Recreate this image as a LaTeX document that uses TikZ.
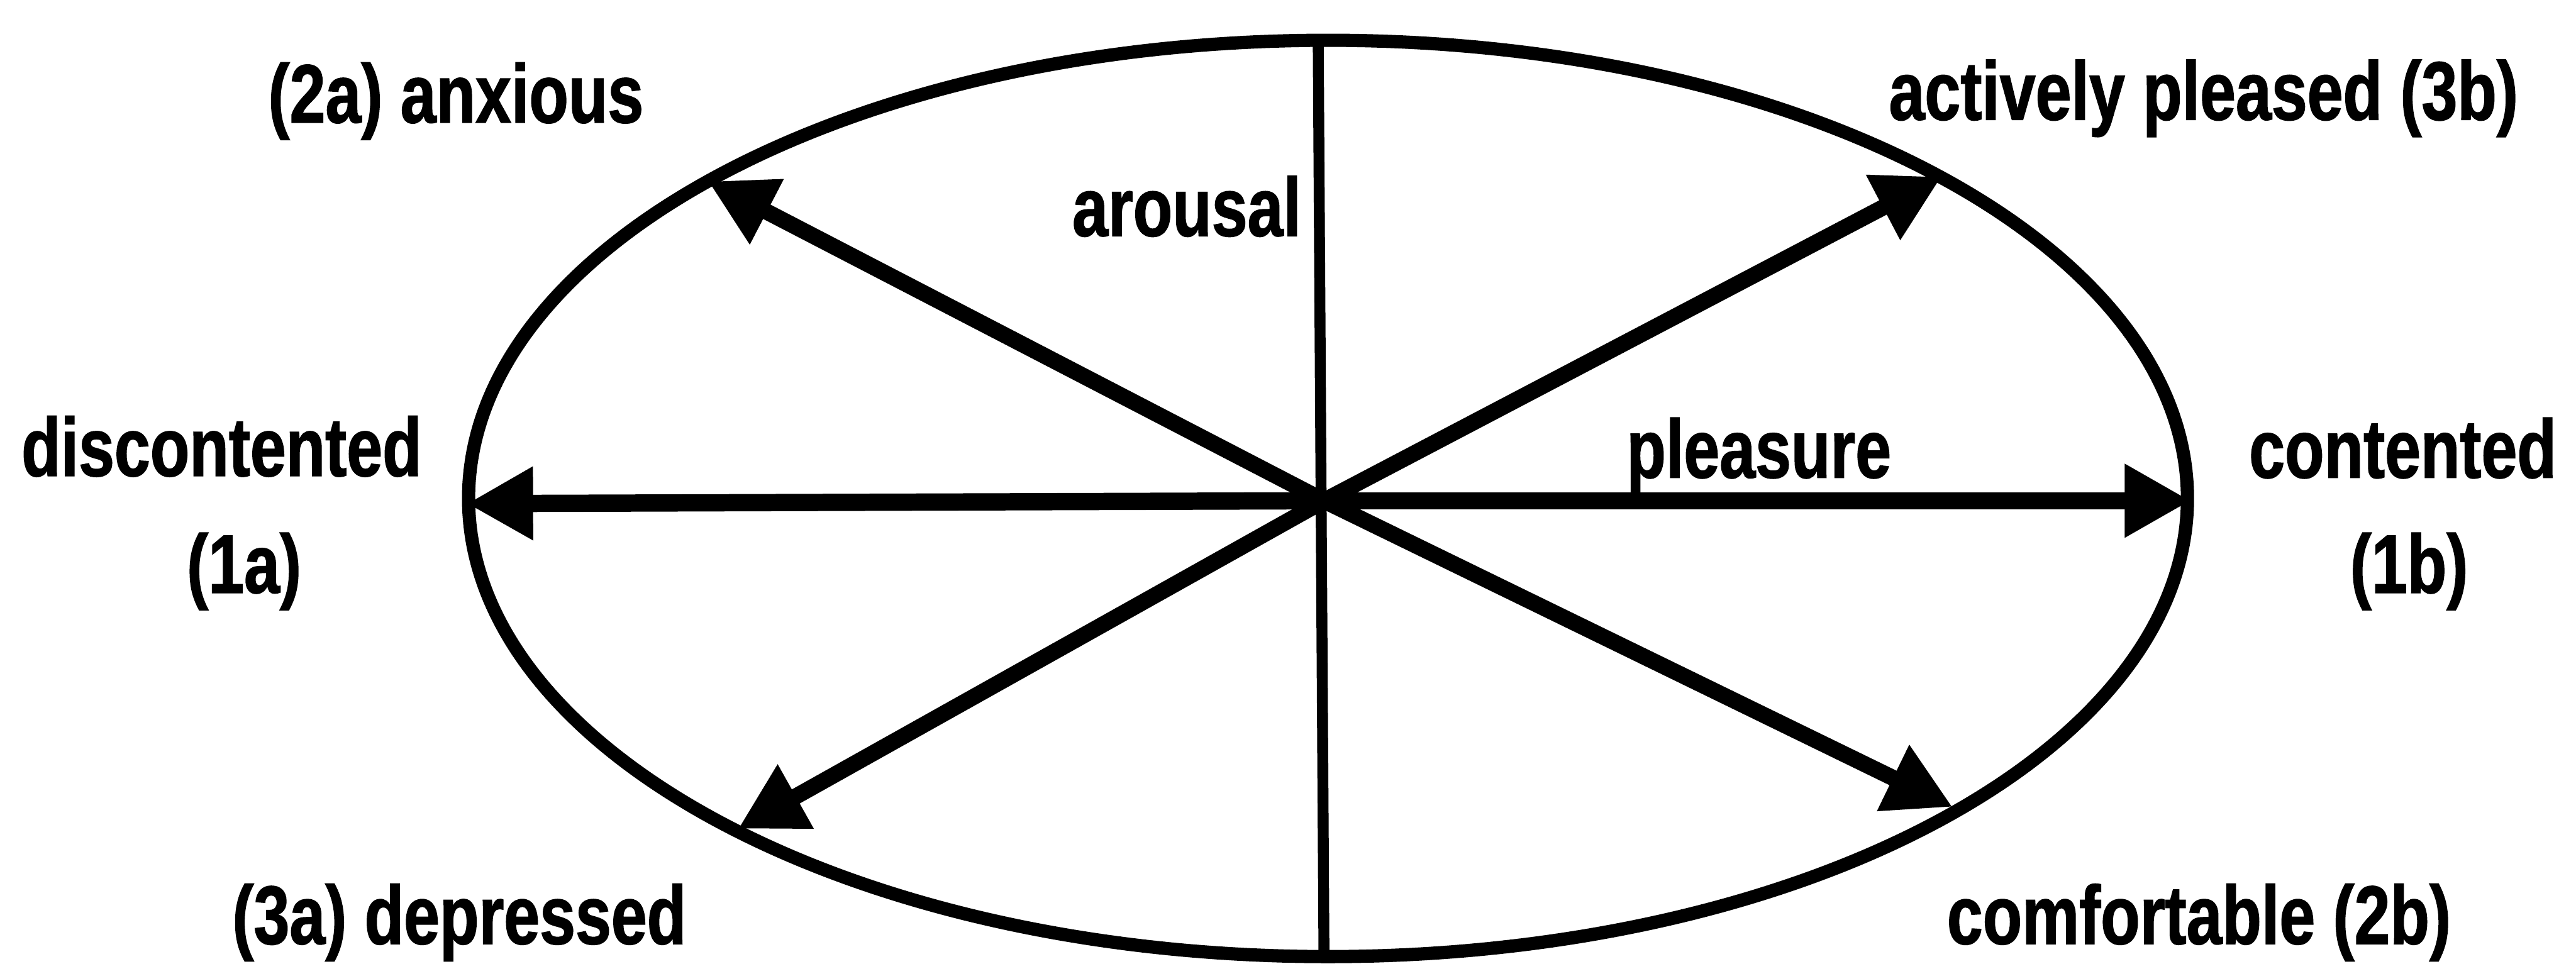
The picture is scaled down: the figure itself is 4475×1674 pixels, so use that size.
\documentclass[tikz,border=0pt]{standalone}
\usepackage{fontspec}
\setmainfont{Liberation Sans}[FakeStretch=0.775, BoldFeatures={FakeBold=1.2}]
\usetikzlibrary{arrows.meta}
\begin{document}
\begin{tikzpicture}[x=0.01cm, y=-0.01cm,
  lbl/.style={font=\fontsize{41}{49}\selectfont\bfseries, inner sep=0pt, anchor=base},
  rim/.style={line width=0.23cm},
  axisline/.style={line width=0.19cm},
  ray/.style={line width=0.28cm, -{Triangle[length=1.15cm, width=1.2cm]}},
  hray/.style={ray, line width=0.30cm}]
\useasboundingbox (0,0) rectangle (4475,1674);

% ellipse
\draw[rim] (2307,866) ellipse [x radius=1493, y radius=796];

% coordinates
\coordinate (c) at (2300,870);
\coordinate (vtop) at (2290,70);
\coordinate (vbot) at (2300,1662);
\coordinate (tl) at (811,875);
\coordinate (tr) at (3806,870);
\coordinate (tul) at (1230,315);
\coordinate (tur) at (3373,307);
\coordinate (tll) at (1282,1440);
\coordinate (tlr) at (3392,1402);

% arousal axis
\draw[axisline] (vtop) -- (vbot);

% rays
\draw[hray] (c) -- (tl);
\draw[hray] (c) -- (tr);
\draw[ray] (c) -- (tul);
\draw[ray] (c) -- (tur);
\draw[ray] (c) -- (tll);
\draw[ray] (c) -- (tlr);

% labels
\node[lbl] (anx) at (792,213) {(2a) anxious};
\node[lbl, anchor=base east] (aro) at (2261,410) {arousal};
\node[lbl] (act) at (3828,208) {actively pleased (3b)};
\node[lbl] (dis) at (385,827) {discontented};
\node[lbl] (oa) at (424,1030) {(1a)};
\node[lbl, anchor=base west] (plea) at (2825,830) {pleasure};
\node[lbl] (con) at (4174,830) {contented};
\node[lbl] (ob) at (4185,1030) {(1b)};
\node[lbl] (dep) at (798,1640) {(3a) depressed};
\node[lbl] (com) at (3820,1640) {comfortable (2b)};
\end{tikzpicture}
\end{document}
